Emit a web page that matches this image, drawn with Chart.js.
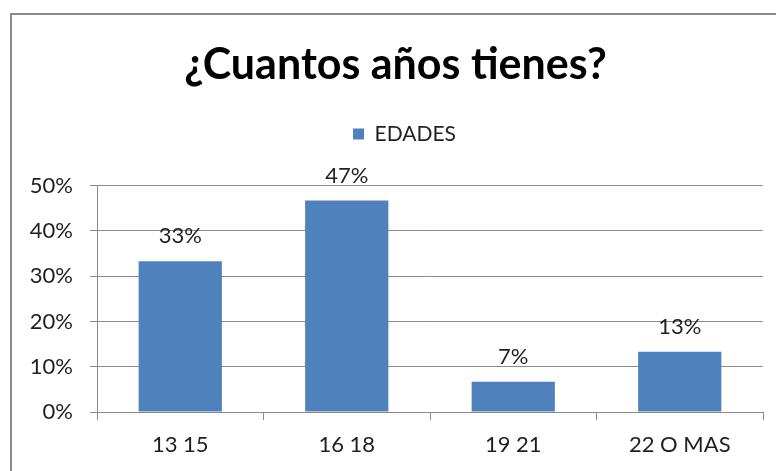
<!DOCTYPE html>
<html>
<head>
<meta charset="utf-8">
<script src="https://cdn.jsdelivr.net/npm/chart.js@4.4.1/dist/chart.umd.min.js"></script>
<style>
  html, body { margin: 0; padding: 0; background: #ffffff; }
  #wrap { position: relative; width: 776px; height: 471px; overflow: hidden; background: #ffffff; }
  #frame { position: absolute; left: 10px; top: 13px; width: 800px; height: 500px; border: 2px solid #8a8a8a; box-sizing: border-box; }
  #c { position: absolute; left: 0; top: 0; }
</style>
</head>
<body>
<div id="wrap">
  <div id="frame"></div>
  <canvas id="c" width="797" height="471"></canvas>
</div>
<script>
// ---- data ----
const categories = ["13 15", "16 18", "19 21", "22 O MAS"];
const seriesName = "EDADES";
const edades = [0.333, 0.467, 0.067, 0.133];
const yTickMax = 0.5;
const yTickStep = 0.1;
const chartTitle = "¿Cuantos años tienes?";

const FONT = "Lato, 'Noto Sans', sans-serif";
const pct = v => Math.round(v * 100) + "%";

// spacer box between legend and plot area
const spacerPlugin = {
  id: "spacer",
  beforeInit(chart) {
    const box = {
      position: "top",
      weight: 500,
      fullSize: true,
      options: {},
      width: 0, height: 0, left: 0, top: 0, right: 0, bottom: 0,
      isHorizontal() { return true; },
      update(maxWidth) { this.width = maxWidth; this.height = 31; },
      draw() {}
    };
    Chart.layouts.addBox(chart, box);
  },
  afterLayout(chart) {
    if (chart.legend) {
      chart.legend.left += 9;
      chart.legend.right += 9;
    }
  }
};

const valueLabels = {
  id: "valueLabels",
  afterDatasetsDraw(chart) {
    const ctx = chart.ctx;
    const meta = chart.getDatasetMeta(0);
    ctx.save();
    ctx.font = "22px " + FONT;
    ctx.fillStyle = "#1f1f1f";
    ctx.textAlign = "center";
    ctx.textBaseline = "middle";
    meta.data.forEach((bar, i) => {
      ctx.fillText(pct(chart.data.datasets[0].data[i]), bar.x, bar.y - 25);
    });
    ctx.restore();
  }
};

new Chart(document.getElementById("c"), {
  type: "bar",
  data: {
    labels: categories,
    datasets: [{
      label: seriesName,
      data: edades,
      backgroundColor: "#4F81BD",
      borderWidth: 0,
      barPercentage: 0.5,
      categoryPercentage: 1.0
    }]
  },
  options: {
    responsive: false,
    devicePixelRatio: 1,
    animation: false,
    layout: { padding: { left: 28, right: 34, top: 0, bottom: 0 } },
    plugins: {
      title: {
        display: true,
        text: chartTitle,
        color: "#000000",
        font: { family: FONT, size: 43, weight: "bold" },
        padding: { top: 39, bottom: 23 }
      },
      legend: {
        display: true,
        position: "top",
        labels: {
          color: "#1f1f1f",
          font: { family: FONT, size: 21 },
          boxWidth: 11,
          boxHeight: 11,
          padding: 10
        }
      },
      tooltip: { enabled: false }
    },
    scales: {
      x: {
        offset: true,
        grid: { display: true, offset: true, drawOnChartArea: false, drawTicks: true, tickLength: 8, color: "#8a8a8a" },
        border: { display: true, color: "#8a8a8a" },
        ticks: { color: "#1f1f1f", font: { family: FONT, size: 22 }, padding: 12, maxRotation: 0 },
        afterFit(s) { s.height = 59; }
      },
      y: {
        min: 0,
        max: yTickMax,
        ticks: { stepSize: yTickStep, callback: v => pct(v), color: "#1f1f1f", font: { family: FONT, size: 22 }, padding: 17 },
        grid: { color: "#8a8a8a", tickLength: 7 },
        border: { display: true, color: "#8a8a8a" },
        afterFit(s) { s.width = 69; }
      }
    }
  },
  plugins: [spacerPlugin, valueLabels]
});
</script>
</body>
</html>
